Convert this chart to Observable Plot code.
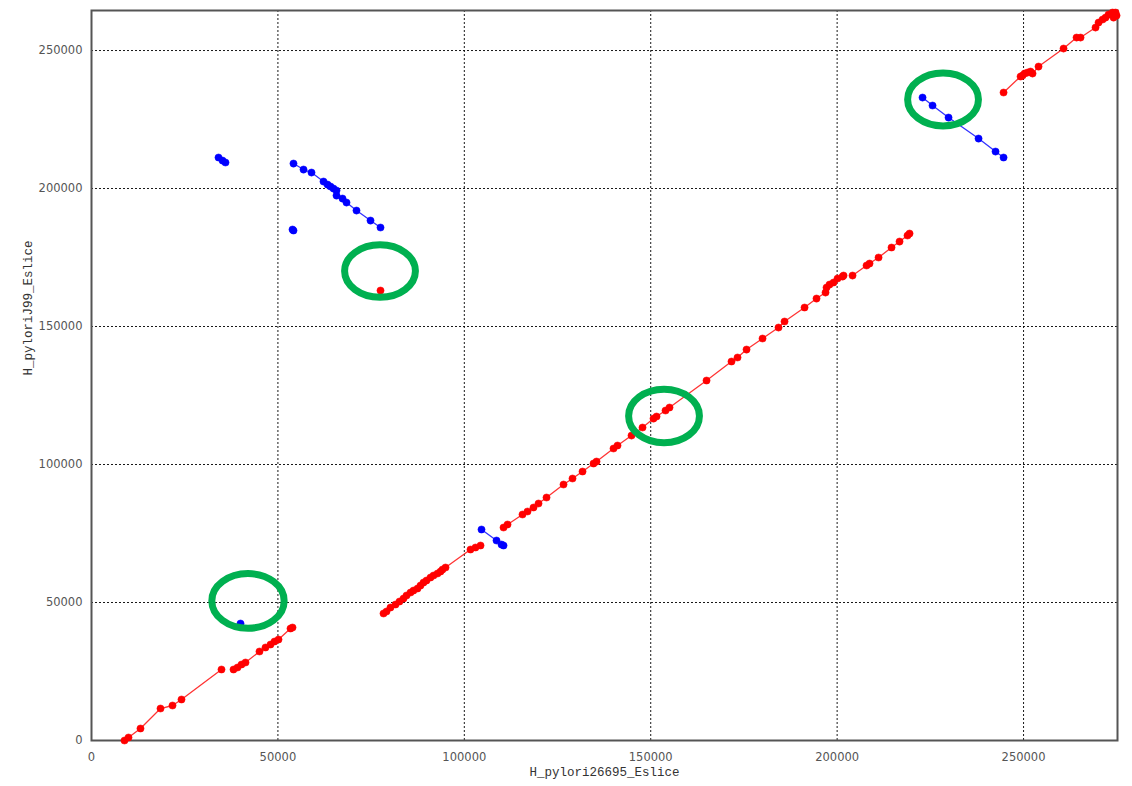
<!DOCTYPE html>
<html>
<head>
<meta charset="utf-8">
<script src="https://cdn.jsdelivr.net/npm/d3@7"></script>
<script src="https://cdn.jsdelivr.net/npm/@observablehq/plot@0.6"></script>
<style>
  html, body { margin: 0; padding: 0; background: #fff; }
  #chart { width: 1132px; height: 786px; }
</style>
</head>
<body>
<div id="chart"></div>
<script>
// ---- Data (x = H_pylori26695_Eslice position, y = H_pyloriJ99_Eslice position) ----
const xLabel = "H_pylori26695_Eslice";
const yLabel = "H_pyloriJ99_Eslice";
const xTicks = [0, 50000, 100000, 150000, 200000, 250000];
const yTicks = [0, 50000, 100000, 150000, 200000, 250000];
const xDomain = [0, 275200];
const yDomain = [0, 264500];

// forward matches (red)
const redA = [[8850,0],[9925,1090],[13140,4350],[18510,11590],[21730,12680],[24140,14860],[34870,25730]];
const redB = [[38090,25730],[39160,26450],[40240,27540],[41310,28260],[45060,32250],[46670,33700],[48020,34780],[49090,35870],[50160,36590],[53380,40580],[53920,40940]];
const redC = [[78330,46020],[79130,46740],[80200,48190],[81550,49280],[82620,50360],[83690,51450],[84500,52540],[85570,53620],[86370,54350],[87450,55070],[88250,56160],[89060,57250],[89860,57970],[90930,59060],[91740,59780],[92810,60510],[93620,61230],[94150,61960],[94960,62680],[101660,69200],[103000,69930],[104350,70650]];
const redD = [[110520,77170],[111590,78260],[115610,81890],[116950,82970],[118560,84420],[119900,85870],[122050,88040],[126610,92750],[129020,94930],[131710,97460],[134660,100360],[135460,101080],[140020,105800],[141090,106880],[144850,110500],[147800,113400],[150750,116660],[151560,117390],[153970,119560],[155040,120650],[164970,130430],[171670,137320],[173280,138770],[175700,141660],[179990,145650],[184280,149630],[185890,151810],[191260,156880],[194470,160140],[196890,162310],[197160,164130],[197960,165210],[199030,165940],[200110,167390],[201450,168110],[201720,168470]];
const redE = [[204130,168470],[207890,172100],[208690,172820],[211110,175000],[214590,178620],[216740,180790],[218880,182970],[219420,183690]];
const redF = [[244640,234780],[249200,240580],[249730,240930],[250270,241660],[251070,242020],[251880,242380],[252410,241660],[254020,244190],[260730,250720],[264220,254700],[265290,254700],[269310,258330],[270120,260140],[271190,261230],[272000,261950],[272800,263030],[273870,263760],[274680,263760],[274950,262670],[274140,261950]];
const redG = [[77520,163040]];

// reverse matches (blue)
const blueA = [[34070,211230],[35140,210140],[35940,209420]];
const blueB = [[54180,209050],[56870,206880],[59010,205790],[62230,202530],[63310,201440],[64110,200720],[64910,199990],[65720,199270],[65720,197460],[67330,196370],[68400,194920],[71080,192020],[74840,188400],[77520,185870]];
const blueC = [[53920,185140],[54180,184780]];
const blueD = [[39970,42390]];
const blueE = [[104610,76450],[108640,72460],[109980,71010],[110520,70650]];
const blueF = [[222910,232960],[225590,230070],[229880,225720],[237930,218110],[242490,213400],[244640,211230]];

// green highlight rings: [centre x, centre y, radius x, radius y] in data units
const highlights = [[77520,169900,9500,9500],[153700,117400,9500,9700],[228540,232100,9500,9600],[42110,50400,9700,9900]];

// ---- build table ----
const segs = {redA, redB, redC, redD, redE, redF, redG, blueA, blueB, blueC, blueD, blueE, blueF};
const rows = [];
for (const [name, pts] of Object.entries(segs)) {
  const dir = name.startsWith("red") ? "forward" : "reverse";
  for (const [x, y] of pts) rows.push({x, y, seg: name, dir});
}
const colorDomain = ["forward", "reverse"];
const colorRange = ["#ff0000", "#0000ff"];

const ellipseMark = (index, scales) => {
  const g = d3.create("svg:g").attr("fill", "none").attr("stroke", "#00b050").attr("stroke-width", 7);
  for (const [cx, cy, rx, ry] of highlights) {
    g.append("ellipse")
      .attr("cx", scales.x(cx))
      .attr("cy", scales.y(cy))
      .attr("rx", Math.abs(scales.x(cx + rx) - scales.x(cx)))
      .attr("ry", Math.abs(scales.y(cy + ry) - scales.y(cy)));
  }
  return g.node();
};

const chart = Plot.plot({
  width: 1132,
  height: 786,
  marginLeft: 91,
  marginRight: 15,
  marginTop: 10,
  marginBottom: 46,
  style: {fontFamily: "DejaVu Sans, sans-serif", fontSize: "11.5px", color: "#555", background: "#fff"},
  x: {domain: xDomain, label: null},
  y: {domain: yDomain, label: null},
  color: {domain: colorDomain, range: colorRange},
  marks: [
    Plot.gridX(xTicks.slice(1), {stroke: "#000", strokeOpacity: 0.9, strokeDasharray: "2,2", strokeWidth: 1}),
    Plot.gridY(yTicks.slice(1), {stroke: "#000", strokeOpacity: 0.9, strokeDasharray: "2,2", strokeWidth: 1}),
    Plot.frame({stroke: "#555", strokeWidth: 2}),
    Plot.axisX(xTicks, {tickSize: 0, tickPadding: 12, tickFormat: d => String(d), label: null, fill: "#555"}),
    Plot.axisY(yTicks, {tickSize: 0, tickPadding: 9, tickFormat: d => String(d), label: null, fill: "#555"}),
    Plot.line(rows, {x: "x", y: "y", z: "seg", stroke: "dir", strokeWidth: 1.3, strokeOpacity: 0.8}),
    Plot.dot(rows, {x: "x", y: "y", fill: "dir", r: 3.6, stroke: "dir", strokeWidth: 0.5}),
    ellipseMark,
    Plot.text([xLabel], {frameAnchor: "bottom", dy: 35, text: d => d, fontFamily: "Liberation Mono, monospace", fontSize: 12.5, fill: "#333"}),
    Plot.text([yLabel], {frameAnchor: "left", dx: -64, rotate: -90, text: d => d, fontFamily: "Liberation Mono, monospace", fontSize: 12.5, fill: "#333"})
  ]
});
document.getElementById("chart").appendChild(chart);
</script>
</body>
</html>
